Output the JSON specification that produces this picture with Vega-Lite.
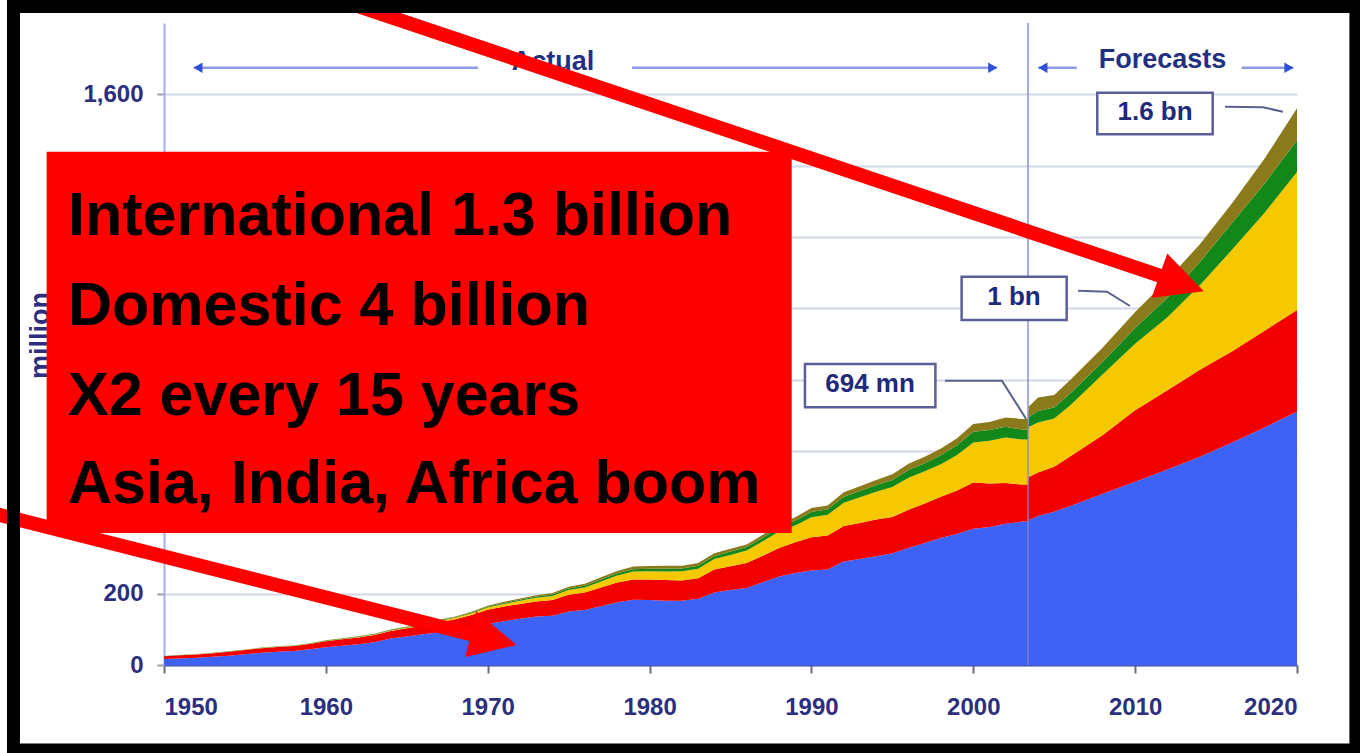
{
  "$schema": "https://vega.github.io/schema/vega-lite/v6.json",
  "width": 1133,
  "height": 642,
  "autosize": {"type": "none"},
  "padding": {"left": 164, "top": 23, "right": 63, "bottom": 88},
  "background": "#ffffff",
  "config": {"view": {"stroke": null}, "font": "Liberation Sans"},
  "datasets": {
    "arrivals": [
      {"year": 1950, "Europe": 16.8, "Americas": 7.5, "EAP": 0.3, "Africa": 0.5, "MESA": 0.3},
      {"year": 1951, "Europe": 18.5, "Americas": 8.5, "EAP": 0.3, "Africa": 0.5, "MESA": 0.3},
      {"year": 1952, "Europe": 20.5, "Americas": 9.0, "EAP": 0.4, "Africa": 0.5, "MESA": 0.4},
      {"year": 1953, "Europe": 23, "Americas": 10, "EAP": 0.4, "Africa": 0.6, "MESA": 0.4},
      {"year": 1954, "Europe": 26, "Americas": 11, "EAP": 0.5, "Africa": 0.6, "MESA": 0.5},
      {"year": 1955, "Europe": 30, "Americas": 12, "EAP": 0.5, "Africa": 0.6, "MESA": 0.5},
      {"year": 1956, "Europe": 34, "Americas": 13, "EAP": 0.6, "Africa": 0.7, "MESA": 0.5},
      {"year": 1957, "Europe": 37, "Americas": 13.5, "EAP": 0.7, "Africa": 0.7, "MESA": 0.6},
      {"year": 1958, "Europe": 39, "Americas": 14, "EAP": 0.7, "Africa": 0.7, "MESA": 0.6},
      {"year": 1959, "Europe": 44, "Americas": 15, "EAP": 0.8, "Africa": 0.7, "MESA": 0.7},
      {"year": 1960, "Europe": 50, "Americas": 16.7, "EAP": 0.9, "Africa": 0.8, "MESA": 0.8},
      {"year": 1961, "Europe": 54, "Americas": 18, "EAP": 1.1, "Africa": 0.9, "MESA": 0.9},
      {"year": 1962, "Europe": 58, "Americas": 19, "EAP": 1.3, "Africa": 1.0, "MESA": 1.0},
      {"year": 1963, "Europe": 64, "Americas": 20, "EAP": 1.6, "Africa": 1.1, "MESA": 1.1},
      {"year": 1964, "Europe": 74, "Americas": 21, "EAP": 1.9, "Africa": 1.2, "MESA": 1.2},
      {"year": 1965, "Europe": 80, "Americas": 23, "EAP": 2.2, "Africa": 1.4, "MESA": 1.3},
      {"year": 1966, "Europe": 86, "Americas": 25, "EAP": 2.7, "Africa": 1.5, "MESA": 1.5},
      {"year": 1967, "Europe": 92, "Americas": 28, "EAP": 3.5, "Africa": 1.8, "MESA": 1.7},
      {"year": 1968, "Europe": 96, "Americas": 32, "EAP": 4.2, "Africa": 2.0, "MESA": 1.9},
      {"year": 1969, "Europe": 104, "Americas": 36, "EAP": 5.0, "Africa": 2.2, "MESA": 2.2},
      {"year": 1970, "Europe": 115, "Americas": 40, "EAP": 6.2, "Africa": 2.4, "MESA": 2.6},
      {"year": 1971, "Europe": 123, "Americas": 41, "EAP": 7.2, "Africa": 2.8, "MESA": 3.0},
      {"year": 1972, "Europe": 130, "Americas": 41, "EAP": 9, "Africa": 3.2, "MESA": 3.4},
      {"year": 1973, "Europe": 136, "Americas": 42, "EAP": 10.5, "Africa": 3.6, "MESA": 3.8},
      {"year": 1974, "Europe": 138, "Americas": 44, "EAP": 11.5, "Africa": 4.0, "MESA": 4.3},
      {"year": 1975, "Europe": 150, "Americas": 47, "EAP": 13, "Africa": 4.7, "MESA": 5.0},
      {"year": 1976, "Europe": 154, "Americas": 49, "EAP": 14.5, "Africa": 5.0, "MESA": 5.6},
      {"year": 1977, "Europe": 165, "Americas": 52, "EAP": 17, "Africa": 5.5, "MESA": 6.2},
      {"year": 1978, "Europe": 176, "Americas": 55, "EAP": 20, "Africa": 6.0, "MESA": 6.8},
      {"year": 1979, "Europe": 183, "Americas": 57, "EAP": 22, "Africa": 6.5, "MESA": 7.4},
      {"year": 1980, "Europe": 182, "Americas": 58, "EAP": 23, "Africa": 7.0, "MESA": 7.8},
      {"year": 1981, "Europe": 180, "Americas": 58, "EAP": 24.5, "Africa": 7.5, "MESA": 8.0},
      {"year": 1982, "Europe": 180, "Americas": 57, "EAP": 26, "Africa": 7.5, "MESA": 8.0},
      {"year": 1983, "Europe": 186, "Americas": 57, "EAP": 27, "Africa": 8, "MESA": 8.0},
      {"year": 1984, "Europe": 203, "Americas": 65, "EAP": 29, "Africa": 8.5, "MESA": 8.0},
      {"year": 1985, "Europe": 210, "Americas": 67, "EAP": 31.5, "Africa": 9.5, "MESA": 8.0},
      {"year": 1986, "Europe": 216, "Americas": 70, "EAP": 35, "Africa": 9.5, "MESA": 7.5},
      {"year": 1987, "Europe": 232, "Americas": 74, "EAP": 41, "Africa": 10, "MESA": 8},
      {"year": 1988, "Europe": 248, "Americas": 80, "EAP": 46, "Africa": 12, "MESA": 9},
      {"year": 1989, "Europe": 258, "Americas": 86, "EAP": 47, "Africa": 13.5, "MESA": 10},
      {"year": 1990, "Europe": 265, "Americas": 93, "EAP": 56, "Africa": 15, "MESA": 11},
      {"year": 1991, "Europe": 268, "Americas": 95, "EAP": 58, "Africa": 16, "MESA": 10},
      {"year": 1992, "Europe": 290, "Americas": 100, "EAP": 65, "Africa": 17, "MESA": 12},
      {"year": 1993, "Europe": 297, "Americas": 101, "EAP": 72, "Africa": 18, "MESA": 13},
      {"year": 1994, "Europe": 305, "Americas": 103, "EAP": 78, "Africa": 19, "MESA": 14},
      {"year": 1995, "Europe": 313, "Americas": 102, "EAP": 84, "Africa": 20, "MESA": 16},
      {"year": 1996, "Europe": 328, "Americas": 107, "EAP": 90, "Africa": 22, "MESA": 17},
      {"year": 1997, "Europe": 342, "Americas": 111, "EAP": 90, "Africa": 23, "MESA": 18},
      {"year": 1998, "Europe": 356, "Americas": 116, "EAP": 91, "Africa": 25, "MESA": 19},
      {"year": 1999, "Europe": 368, "Americas": 121, "EAP": 100, "Africa": 27, "MESA": 20},
      {"year": 2000, "Europe": 382, "Americas": 130, "EAP": 112, "Africa": 30, "MESA": 22},
      {"year": 2001, "Europe": 387, "Americas": 122, "EAP": 120, "Africa": 30, "MESA": 22},
      {"year": 2002, "Europe": 396, "Americas": 114, "EAP": 128, "Africa": 30, "MESA": 26},
      {"year": 2003, "Europe": 402, "Americas": 104, "EAP": 126, "Africa": 28, "MESA": 30},
      {"year": 2003.38, "Europe": 402, "Americas": 104, "EAP": 126, "Africa": 28, "MESA": 30},
      {"year": 2003.42, "Europe": 406, "Americas": 121, "EAP": 140, "Africa": 28, "MESA": 29},
      {"year": 2004, "Europe": 418, "Americas": 122, "EAP": 140, "Africa": 32, "MESA": 38},
      {"year": 2005, "Europe": 430, "Americas": 126, "EAP": 135, "Africa": 31, "MESA": 35},
      {"year": 2006, "Europe": 446, "Americas": 139, "EAP": 143, "Africa": 34, "MESA": 38},
      {"year": 2008, "Europe": 480, "Americas": 165, "EAP": 170, "Africa": 35, "MESA": 40},
      {"year": 2010, "Europe": 514, "Americas": 200, "EAP": 187, "Africa": 44, "MESA": 45},
      {"year": 2012, "Europe": 548, "Americas": 222, "EAP": 205, "Africa": 55, "MESA": 50},
      {"year": 2014, "Europe": 584, "Americas": 244, "EAP": 237, "Africa": 65, "MESA": 50},
      {"year": 2016, "Europe": 624, "Americas": 256, "EAP": 285, "Africa": 75, "MESA": 55},
      {"year": 2018, "Europe": 666, "Americas": 271, "EAP": 331, "Africa": 82, "MESA": 70},
      {"year": 2020, "Europe": 710, "Americas": 285, "EAP": 387, "Africa": 89, "MESA": 90}
    ],
    "regions": [
      {"region": "Europe", "k": 1},
      {"region": "Americas", "k": 2},
      {"region": "EAP", "k": 3},
      {"region": "Africa", "k": 4},
      {"region": "MESA", "k": 5}
    ]
  },
  "layer": [
    {
      "data": {"name": "arrivals"},
      "transform": [
        {"fold": ["Europe", "Americas", "EAP", "Africa", "MESA"], "as": ["region", "arrivals"]},
        {"lookup": "region", "from": {"data": {"name": "regions"}, "key": "region", "fields": ["k"]}}
      ],
      "mark": {"type": "area", "interpolate": "linear"},
      "encoding": {
        "x": {
          "field": "year", "type": "quantitative",
          "scale": {"domain": [1950, 2020], "nice": false, "zero": false},
          "axis": {
            "title": null, "values": [1950, 1960, 1970, 1980, 1990, 2000, 2010, 2020],
            "labelExpr": "format(datum.value, 'd')",
            "grid": false, "domainColor": "#4a56b8", "domainWidth": 2,
            "tickColor": "#6a6a7a", "tickSize": 8, "tickWidth": 2,
            "labelFont": "Liberation Sans", "labelFontWeight": "bold", "labelFontSize": 24,
            "labelColor": "#2b2f7e", "labelPadding": 22
          }
        },
        "y": {
          "field": "arrivals", "type": "quantitative", "stack": "zero",
          "scale": {"domain": [0, 1800], "nice": false},
          "axis": {
            "title": "million", "values": [0, 200, 400, 600, 800, 1000, 1200, 1400, 1600],
            "labelExpr": "format(datum.value, ',')",
            "grid": true, "gridColor": "#d3d7ea", "gridWidth": 2,
            "domainColor": "#a4acf0", "domainWidth": 2,
            "tickColor": "#9a9aaa", "tickSize": 7, "tickWidth": 2,
            "labelFont": "Liberation Sans", "labelFontWeight": "bold", "labelFontSize": 24,
            "labelColor": "#2b2f7e", "labelPadding": 14,
            "titleFont": "Liberation Sans", "titleFontWeight": "bold", "titleFontSize": 27,
            "titleColor": "#2b2f7e", "titleX": -124, "titleY": 312, "titleAngle": -90,
            "titleAlign": "center", "titleBaseline": "middle"
          }
        },
        "color": {
          "field": "region", "type": "nominal",
          "scale": {"domain": ["Europe", "Americas", "EAP", "Africa", "MESA"], "range": ["#3d62f5", "#f20000", "#f5c800", "#13881a", "#8a7a1c"]},
          "legend": null
        },
        "order": {"field": "k", "type": "quantitative", "sort": "ascending"}
      }
    },
    {
      "data": {"values": [{"year": 2003.38}]},
      "mark": {"type": "rule", "color": "#7f86cc", "strokeWidth": 1.5, "opacity": 0.9},
      "encoding": {"x": {"field": "year", "type": "quantitative"}}
    },
    {
      "data": {"values": [
        {"from": 1951.85, "to": 1969.40, "v": 1674.6},
        {"from": 1978.91, "to": 2001.46, "v": 1674.6},
        {"from": 2004.02, "to": 2006.39, "v": 1674.6},
        {"from": 2016.58, "to": 2019.77, "v": 1674.6}
      ]},
      "mark": {"type": "rule", "color": "#8d9ae6", "strokeWidth": 2.5},
      "encoding": {
        "x": {"field": "from", "type": "quantitative"},
        "x2": {"field": "to"},
        "y": {"field": "v", "type": "quantitative"}
      }
    },
    {
      "data": {"values": [
        {"year": 1952.1, "v": 1674.6, "dir": "left"},
        {"year": 2001.2, "v": 1674.6, "dir": "right"},
        {"year": 2004.3, "v": 1674.6, "dir": "left"},
        {"year": 2019.5, "v": 1674.6, "dir": "right"}
      ]},
      "mark": {"type": "point", "filled": true, "opacity": 1, "size": 110, "color": "#2f4fd6"},
      "encoding": {
        "x": {"field": "year", "type": "quantitative"},
        "y": {"field": "v", "type": "quantitative"},
        "shape": {"field": "dir", "type": "nominal", "scale": {"domain": ["left", "right"], "range": ["triangle-left", "triangle-right"]}, "legend": null}
      }
    },
    {
      "data": {"values": [
        {"label": "Actual", "year": 1974.03, "v": 1668.2},
        {"label": "Forecasts", "year": 2011.69, "v": 1673.0}
      ]},
      "mark": {"type": "text", "font": "Liberation Sans", "fontWeight": "bold", "fontSize": 27, "color": "#233080", "align": "center", "baseline": "alphabetic"},
      "encoding": {
        "x": {"field": "year", "type": "quantitative"},
        "y": {"field": "v", "type": "quantitative"},
        "text": {"field": "label"}
      }
    },
    {
      "data": {"values": [
        {"id": "a", "k": 1, "year": 2015.55, "v": 1565.3},
        {"id": "a", "k": 2, "year": 2017.90, "v": 1563.6},
        {"id": "a", "k": 3, "year": 2019.13, "v": 1551.3},
        {"id": "b", "k": 1, "year": 2006.47, "v": 1049.4},
        {"id": "b", "k": 2, "year": 2008.26, "v": 1046.6},
        {"id": "b", "k": 3, "year": 2009.68, "v": 1006.5},
        {"id": "c", "k": 1, "year": 1998.25, "v": 797.1},
        {"id": "c", "k": 2, "year": 2001.77, "v": 797.1},
        {"id": "c", "k": 3, "year": 2003.26, "v": 690.0}
      ]},
      "mark": {"type": "line", "color": "#5a6090", "strokeWidth": 2},
      "encoding": {
        "x": {"field": "year", "type": "quantitative"},
        "y": {"field": "v", "type": "quantitative"},
        "detail": {"field": "id"},
        "order": {"field": "k", "type": "quantitative"}
      }
    },
    {
      "data": {"values": [
        {"x1": 2007.66, "x2": 2014.79, "y1": 1604.6, "y2": 1487.9},
        {"x1": 1999.28, "x2": 2005.77, "y1": 1088.7, "y2": 967.3},
        {"x1": 1989.60, "x2": 1997.66, "y1": 843.9, "y2": 722.5}
      ]},
      "mark": {"type": "rect", "fill": "#ffffff", "stroke": "#5a5f99", "strokeWidth": 2.5},
      "encoding": {
        "x": {"field": "x1", "type": "quantitative"},
        "x2": {"field": "x2"},
        "y": {"field": "y1", "type": "quantitative"},
        "y2": {"field": "y2"}
      }
    },
    {
      "data": {"values": [
        {"label": "1.6 bn", "year": 2011.23, "v": 1528.1},
        {"label": "1 bn", "year": 2002.51, "v": 1009.4},
        {"label": "694 mn", "year": 1993.62, "v": 766.3}
      ]},
      "mark": {"type": "text", "font": "Liberation Sans", "fontWeight": "bold", "fontSize": 26, "color": "#1f2a7a", "align": "center", "baseline": "alphabetic"},
      "encoding": {
        "x": {"field": "year", "type": "quantitative"},
        "y": {"field": "v", "type": "quantitative"},
        "text": {"field": "label"}
      }
    },
    {
      "data": {"values": [{"x1": 1942.75, "x2": 1988.78, "y1": 1439.2, "y2": 370.1}]},
      "mark": {"type": "rect", "fill": "#ff0000"},
      "encoding": {
        "x": {"field": "x1", "type": "quantitative"},
        "x2": {"field": "x2"},
        "y": {"field": "y1", "type": "quantitative"},
        "y2": {"field": "y2"}
      }
    },
    {
      "data": {"values": [
        {"line": "International 1.3 billion", "year": 1944.07, "v": 1205.6},
        {"line": "Domestic 4 billion", "year": 1944.07, "v": 953.3},
        {"line": "X2 every 15 years", "year": 1944.07, "v": 701.0},
        {"line": "Asia, India, Africa boom", "year": 1944.07, "v": 453.4}
      ]},
      "mark": {"type": "text", "font": "Liberation Sans", "fontWeight": "bold", "fontSize": 61, "color": "#000000", "align": "left", "baseline": "alphabetic"},
      "encoding": {
        "x": {"field": "year", "type": "quantitative"},
        "y": {"field": "v", "type": "quantitative"},
        "text": {"field": "line"}
      }
    },
    {
      "data": {"values": [
        {"x1": 1959.02, "y1": 1892.5, "x2": 2012.15, "y2": 1082.2},
        {"x1": 1939.25, "y1": 427.6, "x2": 1969.52, "y2": 79.9}
      ]},
      "mark": {"type": "rule", "color": "#ff0000", "strokeWidth": 14},
      "encoding": {
        "x": {"field": "x1", "type": "quantitative"},
        "y": {"field": "y1", "type": "quantitative"},
        "x2": {"field": "x2"},
        "y2": {"field": "y2"}
      }
    },
    {
      "data": {"values": [{"year": 2012.87, "v": 1069.6}]},
      "mark": {"type": "point", "shape": "M 1 0 L -1 -1 L -1 1 Z", "size": 2209, "angle": 19.5, "filled": true, "opacity": 1, "color": "#ff0000"},
      "encoding": {
        "x": {"field": "year", "type": "quantitative"},
        "y": {"field": "v", "type": "quantitative"}
      }
    },
    {
      "data": {"values": [{"year": 1970.37, "v": 71.2}]},
      "mark": {"type": "point", "shape": "M 1 0 L -1 -1 L -1 1 Z", "size": 2209, "angle": 13.2, "filled": true, "opacity": 1, "color": "#ff0000"},
      "encoding": {
        "x": {"field": "year", "type": "quantitative"},
        "y": {"field": "v", "type": "quantitative"}
      }
    },
    {
      "data": {"values": [{"x1": 1940.70, "x2": 2023.64, "y1": 1846.2, "y2": -238.3}]},
      "mark": {"type": "rect", "fill": "transparent", "stroke": "#000000", "strokeWidth": 13},
      "encoding": {
        "x": {"field": "x1", "type": "quantitative"},
        "x2": {"field": "x2"},
        "y": {"field": "y1", "type": "quantitative"},
        "y2": {"field": "y2"}
      }
    }
  ]
}
